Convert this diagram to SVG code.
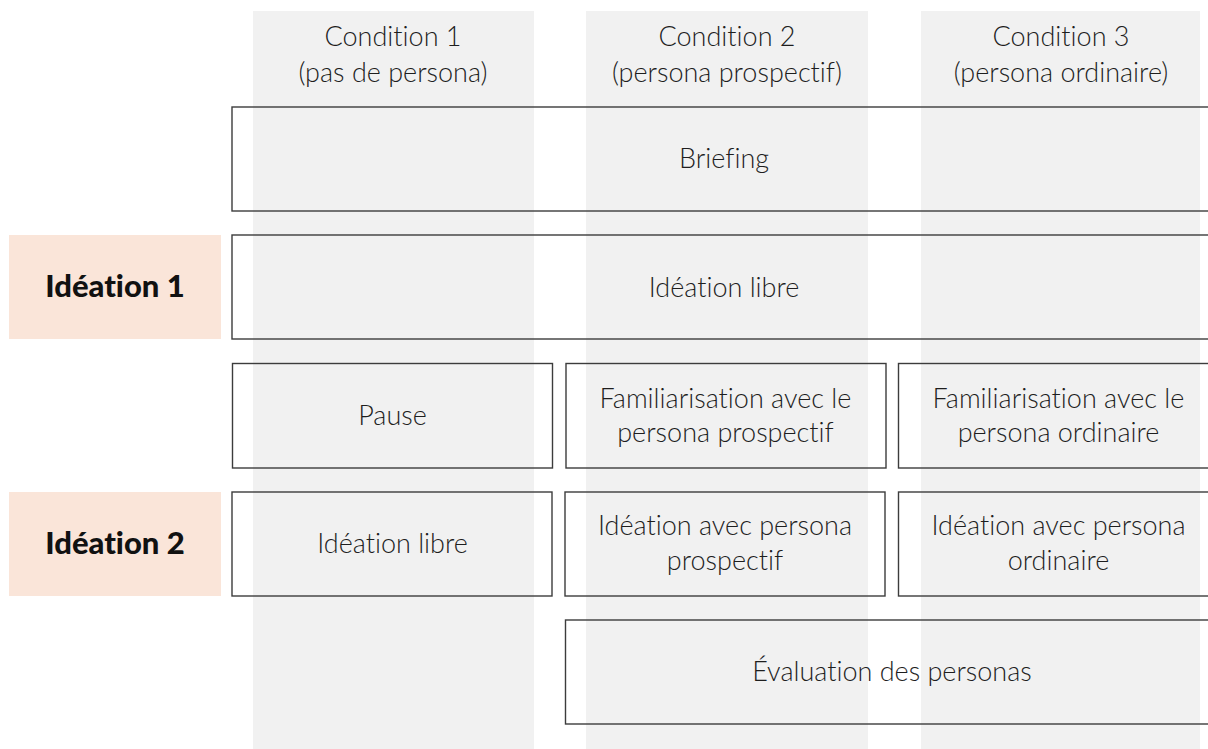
<svg xmlns="http://www.w3.org/2000/svg" width="1208" height="749" viewBox="0 0 1208 749">
<style>
.band{fill:#f1f1f1}
.box{fill:none;stroke:#3c3c3c;stroke-width:1.4}
.lab{fill:#fae5d9}
.t{font-family:Lato,"Open Sans","Liberation Sans",sans-serif;font-weight:300;font-size:27px;fill:#1e1e1e;text-anchor:middle;font-variant-ligatures:none}
.b{font-family:Lato,"Open Sans","Liberation Sans",sans-serif;font-weight:900;font-size:31px;fill:#111;text-anchor:middle;font-variant-ligatures:none}
</style>
<rect width="1208" height="749" fill="#fff"/>
<g id="bands">
<rect class="band" x="253" y="11" width="281" height="738"/>
<rect class="band" x="586" y="11" width="282" height="738"/>
<rect class="band" x="921" y="11" width="279" height="738"/>
</g>
<g id="headers">
<text class="t" x="393" y="46">Condition 1</text>
<text class="t" x="393" y="82">(pas de persona)</text>
<text class="t" x="727" y="46">Condition 2</text>
<text class="t" x="727" y="82">(persona prospectif)</text>
<text class="t" x="1061" y="46">Condition 3</text>
<text class="t" x="1061" y="82">(persona ordinaire)</text>
</g>
<g id="label-ideation1">
<rect class="lab" x="9" y="235" width="212" height="104"/>
<text class="b" x="115" y="297">Idéation 1</text>
</g>
<g id="label-ideation2">
<rect class="lab" x="9" y="492" width="212" height="104"/>
<text class="b" x="115" y="554">Idéation 2</text>
</g>
<g id="briefing">
<rect class="box" x="232" y="107" width="988" height="104"/>
<text class="t" x="724" y="168">Briefing</text>
</g>
<g id="ideation-libre-1">
<rect class="box" x="232" y="235" width="988" height="104"/>
<text class="t" x="724" y="297">Idéation libre</text>
</g>
<g id="pause">
<rect class="box" x="232.5" y="363.5" width="320" height="104.5"/>
<text class="t" x="392.5" y="425">Pause</text>
</g>
<g id="familiarisation-prospectif">
<rect class="box" x="566" y="363.5" width="320" height="104.5"/>
<text class="t" x="725.5" y="408">Familiarisation avec le</text>
<text class="t" x="725.5" y="442">persona prospectif</text>
</g>
<g id="familiarisation-ordinaire">
<rect class="box" x="898.5" y="363.5" width="322" height="104.5"/>
<text class="t" x="1058.5" y="408">Familiarisation avec le</text>
<text class="t" x="1058.5" y="442">persona ordinaire</text>
</g>
<g id="ideation-libre-2">
<rect class="box" x="232" y="492" width="320" height="104"/>
<text class="t" x="392.5" y="553">Idéation libre</text>
</g>
<g id="ideation-prospectif">
<rect class="box" x="565" y="492" width="320" height="104"/>
<text class="t" x="725" y="535">Idéation avec persona</text>
<text class="t" x="725" y="570">prospectif</text>
</g>
<g id="ideation-ordinaire">
<rect class="box" x="898.5" y="492" width="322" height="104"/>
<text class="t" x="1058.5" y="535">Idéation avec persona</text>
<text class="t" x="1058.5" y="570">ordinaire</text>
</g>
<g id="evaluation">
<rect class="box" x="565.5" y="620" width="654" height="104"/>
<text class="t" x="892" y="681">Évaluation des personas</text>
</g>
<g id="connectors"></g>
</svg>
